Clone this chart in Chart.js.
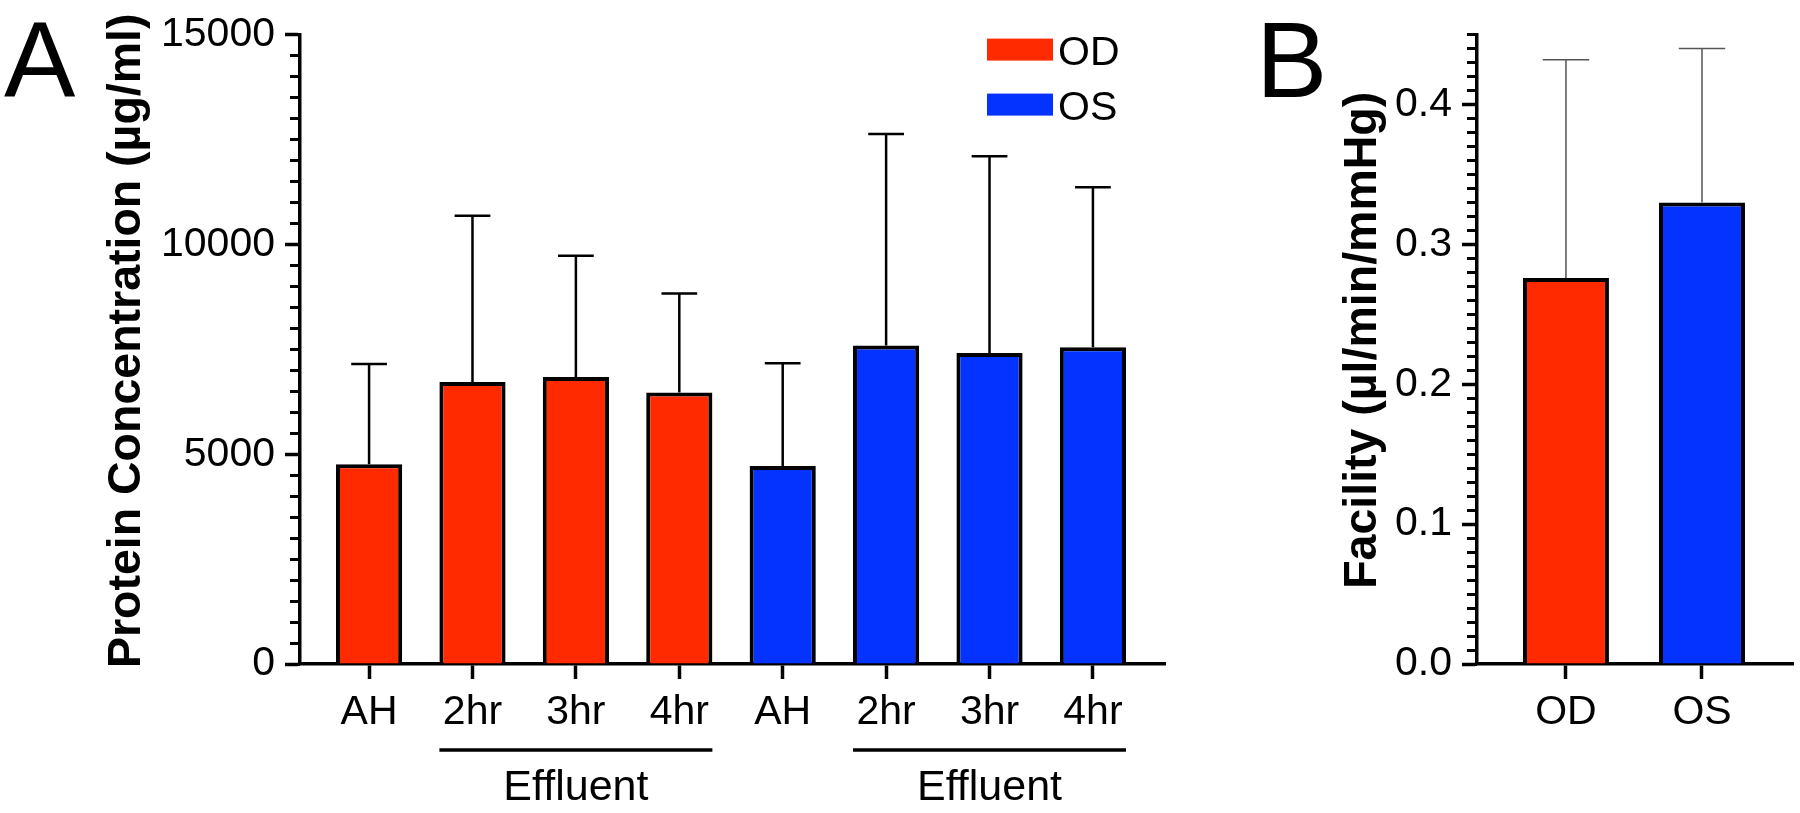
<!DOCTYPE html>
<html>
<head>
<meta charset="utf-8">
<title>Protein concentration and outflow facility</title>
<script src="https://cdn.jsdelivr.net/npm/chart.js@4.4.1/dist/chart.umd.min.js"></script>
<style>
  html, body { margin: 0; padding: 0; background: #fff; }
  #wrap { position: relative; width: 1800px; height: 813px; }
  canvas { position: absolute; top: 0; }
  #proteinChart { left: 0; }
  #facilityChart { left: 1240px; }
</style>
</head>
<body>
<div id="wrap">
  <canvas id="proteinChart" width="1200" height="813"></canvas>
  <canvas id="facilityChart" width="560" height="813"></canvas>
</div>
<script>
// panel A - protein concentration (ug/ml), mean and SD
const timePoints = ["AH", "2hr", "3hr", "4hr"];
const odProtein = [4760, 6720, 6840, 6470];
const odProteinSD = [2390, 3960, 2890, 2360];
const osProtein = [4720, 7590, 7410, 7550];
const osProteinSD = [2450, 5040, 4690, 3810];
const proteinTicks = [0, 5000, 10000, 15000];

// panel B - facility (ul/min/mmHg)
const eyes = ["OD", "OS"];
const facility = [0.276, 0.330];
const facilitySD = [0.156, 0.110];
const facilityTicks = [0, 0.1, 0.2, 0.3, 0.4];

const RED = "#ff2a00";
const BLUE = "#0433ff";
const FONT = "'Liberation Sans', Arial, Helvetica, sans-serif";
const TEXT_SIZE = 41;

Chart.defaults.font.family = FONT;
Chart.defaults.color = "#000";

const errorBars = {
  id: "errorBars",
  afterDatasetsDraw(chart, args, opts) {
    const { ctx } = chart;
    const y = chart.scales.y;
    ctx.save();
    ctx.strokeStyle = opts.color;
    ctx.lineWidth = opts.width;
    chart.data.datasets.forEach((ds, di) => {
      chart.getDatasetMeta(di).data.forEach((bar, i) => {
        const top = y.getPixelForValue(ds.data[i].y + ds.sd[i]);
        const half = (bar.width * opts.cap) / 2;
        ctx.beginPath();
        ctx.moveTo(bar.x, bar.y);
        ctx.lineTo(bar.x, top);
        ctx.moveTo(bar.x - half, top);
        ctx.lineTo(bar.x + half, top);
        ctx.stroke();
      });
    });
    ctx.restore();
  }
};

const panelLetter = {
  id: "panelLetter",
  afterDraw(chart, args, opts) {
    const { ctx } = chart;
    ctx.save();
    ctx.font = `107px ${FONT}`;
    ctx.fillStyle = "#000";
    ctx.textAlign = "left";
    ctx.textBaseline = "alphabetic";
    ctx.fillText(opts.text, opts.x, opts.y);
    ctx.restore();
  }
};

// rotated y title, drawn by hand so the canvas doesn't squeeze it to the axis height
const sideTitle = {
  id: "sideTitle",
  afterDraw(chart, args, opts) {
    const { ctx, chartArea } = chart;
    ctx.save();
    ctx.translate(opts.x, (chartArea.top + chartArea.bottom) / 2 + opts.dy);
    ctx.rotate(-Math.PI / 2);
    ctx.font = `bold 46.5px ${FONT}`;
    ctx.fillStyle = "#000";
    ctx.textAlign = "center";
    ctx.textBaseline = "middle";
    ctx.fillText(opts.text, 0, 0);
    ctx.restore();
  }
};

const boxLegend = {
  id: "boxLegend",
  afterDraw(chart, args, opts) {
    const { ctx, chartArea } = chart;
    ctx.save();
    ctx.font = `${TEXT_SIZE}px ${FONT}`;
    ctx.textAlign = "left";
    ctx.textBaseline = "middle";
    chart.data.datasets.forEach((ds, i) => {
      const x = chartArea.right - opts.right;
      const y = chartArea.top + opts.top + i * opts.rowGap;
      ctx.fillStyle = ds.backgroundColor;
      ctx.fillRect(x, y, opts.boxWidth, opts.boxHeight);
      ctx.fillStyle = "#000";
      ctx.fillText(ds.label, x + opts.boxWidth + 5, y + opts.boxHeight / 2 + 4);
    });
    ctx.restore();
  }
};

// line + "Effluent" under the 2hr..4hr bars of each eye
const effluentBracket = {
  id: "effluentBracket",
  afterDraw(chart, args, opts) {
    const { ctx, chartArea } = chart;
    ctx.save();
    chart.data.datasets.forEach((ds, di) => {
      const bars = chart.getDatasetMeta(di).data;
      const first = bars[opts.from];
      const last = bars[opts.to];
      const x0 = first.x - first.width / 2;
      const x1 = last.x + last.width / 2;
      const ly = chartArea.bottom + opts.lineOffset;
      ctx.strokeStyle = "#000";
      ctx.lineWidth = 3.5;
      ctx.beginPath();
      ctx.moveTo(x0, ly);
      ctx.lineTo(x1, ly);
      ctx.stroke();
      ctx.fillStyle = "#000";
      ctx.font = `43px ${FONT}`;
      ctx.textAlign = "center";
      ctx.textBaseline = "alphabetic";
      ctx.fillText(opts.text, (x0 + x1) / 2, chartArea.bottom + opts.textOffset);
    });
    ctx.restore();
  }
};

function xAxis(labels, min, max) {
  return {
    type: "linear",
    min: min,
    max: max,
    offset: false,
    afterBuildTicks: (s) => { s.ticks = labels.map((_, i) => ({ value: i })); },
    afterFit: (s) => { s.height = 149; },
    grid: { offset: false, drawOnChartArea: false, tickLength: 15, tickWidth: 3.5, tickColor: "#000" },
    border: { color: "#000", width: 3.5 },
    ticks: {
      callback: (v) => labels[v],
      font: { size: TEXT_SIZE },
      padding: 9,
      maxRotation: 0,
      autoSkip: false
    }
  };
}

function yAxis(tickValues, max, axisWidth, fmt) {
  return {
    type: "linear",
    position: "left",
    min: 0,
    max: max,
    weight: 1,
    afterBuildTicks: (s) => { s.ticks = tickValues.map((v) => ({ value: v })); },
    afterFit: (s) => { s.width = axisWidth; },
    grid: { drawOnChartArea: false, tickLength: 15, tickWidth: 3.5, tickColor: "#000" },
    border: { color: "#000", width: 3.5 },
    ticks: { callback: fmt, font: { size: TEXT_SIZE }, padding: 10 }
  };
}

// short minor ticks, zero width so it sits right on the main axis
function minorAxis(max, step) {
  return {
    type: "linear",
    axis: "y",
    position: "left",
    min: 0,
    max: max,
    weight: 0,
    afterFit: (s) => { s.width = 0; },
    grid: { drawOnChartArea: false, tickLength: 10, tickWidth: 3, tickColor: "#000" },
    border: { display: false },
    ticks: { display: false, stepSize: step, maxTicksLimit: 1000 }
  };
}

const barStyle = {
  borderColor: "#000",
  borderWidth: 4,
  categoryPercentage: 1,
  grouped: false
};

const proteinLabels = timePoints.concat(timePoints);

new Chart(document.getElementById("proteinChart"), {
  type: "bar",
  data: {
    datasets: [
      Object.assign({
        label: "OD",
        data: odProtein.map((v, i) => ({ x: i, y: v })),
        sd: odProteinSD,
        backgroundColor: RED,
        barPercentage: 0.64
      }, barStyle),
      Object.assign({
        label: "OS",
        data: osProtein.map((v, i) => ({ x: i + timePoints.length, y: v })),
        sd: osProteinSD,
        backgroundColor: BLUE,
        barPercentage: 0.64
      }, barStyle)
    ]
  },
  options: {
    responsive: false,
    animation: false,
    layout: { padding: { left: 0, top: 29, right: 35, bottom: 0 } },
    scales: {
      x: xAxis(proteinLabels, -0.668, proteinLabels.length - 1 + 0.697),
      y: yAxis(proteinTicks, 15000, 300, (v) => String(v)),
      yMinor: minorAxis(15000, 500)
    },
    plugins: {
      legend: { display: false },
      tooltip: { enabled: false },
      errorBars: { color: "#000", width: 2.5, cap: 0.54 },
      panelLetter: { text: "A", x: 4, y: 97 },
      sideTitle: { text: "Protein Concentration (µg/ml)", x: 127, dy: -8.5 },
      boxLegend: { right: 178, top: 4, rowGap: 55, boxWidth: 66, boxHeight: 22 },
      effluentBracket: { text: "Effluent", from: 1, to: 3, lineOffset: 86, textOffset: 136 }
    }
  },
  plugins: [errorBars, panelLetter, sideTitle, boxLegend, effluentBracket]
});

new Chart(document.getElementById("facilityChart"), {
  type: "bar",
  data: {
    datasets: [
      Object.assign({
        label: "Facility",
        data: facility.map((v, i) => ({ x: i, y: v })),
        sd: facilitySD,
        backgroundColor: [RED, BLUE],
        barPercentage: 0.632
      }, barStyle)
    ]
  },
  options: {
    responsive: false,
    animation: false,
    layout: { padding: { left: 0, top: 29, right: 7, bottom: 0 } },
    scales: {
      x: xAxis(eyes, -0.654, eyes.length - 1 + 0.669),
      y: yAxis(facilityTicks, 0.45, 237, (v) => v.toFixed(1)),
      yMinor: minorAxis(0.45, 0.01)
    },
    plugins: {
      legend: { display: false },
      tooltip: { enabled: false },
      errorBars: { color: "#555", width: 1.5, cap: 0.54 },
      panelLetter: { text: "B", x: 16, y: 97 },
      sideTitle: { text: "Facility (µl/min/mmHg)", x: 123, dy: -9 }
    }
  },
  plugins: [errorBars, panelLetter, sideTitle]
});
</script>
</body>
</html>
